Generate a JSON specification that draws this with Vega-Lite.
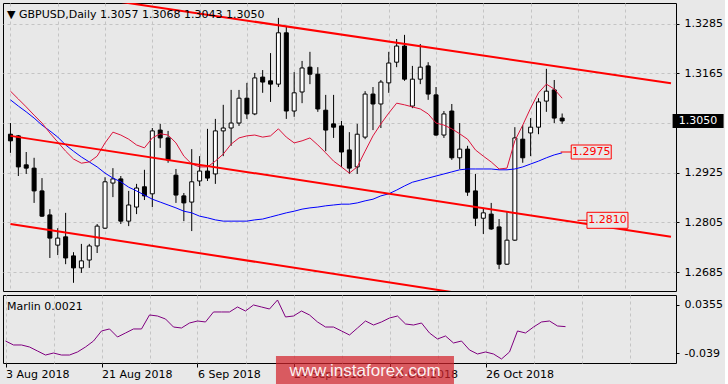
{
  "$schema": "https://vega.github.io/schema/vega-lite/v6.json",
  "background": "#e8e8e8",
  "padding": {"left": 2, "top": 2, "right": 0, "bottom": 0},
  "spacing": 2,
  "config": {
    "font": "DejaVu Sans",
    "view": {"stroke": "#000000", "strokeWidth": 1},
    "axis": {"labelFont": "DejaVu Sans", "labelFontSize": 11, "labelColor": "#000000", "gridColor": "#c4c4c4", "gridDash": [3, 3], "gridWidth": 1, "domain": false, "tickColor": "#000000", "title": null},
    "title": {"font": "DejaVu Sans", "fontSize": 11, "fontWeight": "normal", "color": "#000000", "anchor": "start", "frame": "group"}
  },
  "datasets": {
    "bars": [
      {"d":"2018-08-03","i":0,"o":1.3018,"h":1.3045,"l":1.2973,"c":1.3002,"ma":1.3101,"fma":1.3122,"mar":-0.0201},
      {"d":"2018-08-06","i":1,"o":1.3014,"h":1.3016,"l":1.2917,"c":1.2939,"ma":1.3086,"fma":1.3103,"mar":-0.0262},
      {"d":"2018-08-07","i":2,"o":1.2944,"h":1.2975,"l":1.2922,"c":1.2936,"ma":1.3072,"fma":1.3084,"mar":-0.0262},
      {"d":"2018-08-08","i":3,"o":1.2936,"h":1.2961,"l":1.2852,"c":1.2881,"ma":1.3057,"fma":1.3064,"mar":-0.0293},
      {"d":"2018-08-09","i":4,"o":1.2881,"h":1.2912,"l":1.2818,"c":1.2820,"ma":1.3040,"fma":1.3045,"mar":-0.0355},
      {"d":"2018-08-10","i":5,"o":1.2823,"h":1.2837,"l":1.2719,"c":1.2767,"ma":1.3026,"fma":1.3021,"mar":-0.0417},
      {"d":"2018-08-13","i":6,"o":1.2750,"h":1.2791,"l":1.2726,"c":1.2767,"ma":1.3011,"fma":1.2999,"mar":-0.0386},
      {"d":"2018-08-14","i":7,"o":1.2770,"h":1.2828,"l":1.2704,"c":1.2719,"ma":1.2992,"fma":1.2977,"mar":-0.0417},
      {"d":"2018-08-15","i":8,"o":1.2724,"h":1.2733,"l":1.2659,"c":1.2695,"ma":1.2977,"fma":1.2958,"mar":-0.0417},
      {"d":"2018-08-16","i":9,"o":1.2695,"h":1.2753,"l":1.2683,"c":1.2712,"ma":1.2963,"fma":1.2948,"mar":-0.0370},
      {"d":"2018-08-17","i":10,"o":1.2714,"h":1.2753,"l":1.2695,"c":1.2748,"ma":1.2951,"fma":1.2951,"mar":-0.0293},
      {"d":"2018-08-20","i":11,"o":1.2748,"h":1.2801,"l":1.2731,"c":1.2796,"ma":1.2939,"fma":1.2965,"mar":-0.0201},
      {"d":"2018-08-21","i":12,"o":1.2791,"h":1.2914,"l":1.2789,"c":1.2903,"ma":1.2924,"fma":1.2997,"mar":-0.0046},
      {"d":"2018-08-22","i":13,"o":1.2900,"h":1.2936,"l":1.2866,"c":1.2910,"ma":1.2912,"fma":1.3023,"mar":-0.0015},
      {"d":"2018-08-23","i":14,"o":1.2910,"h":1.2917,"l":1.2801,"c":1.2808,"ma":1.2903,"fma":1.3016,"mar":-0.0139},
      {"d":"2018-08-24","i":15,"o":1.2808,"h":1.2881,"l":1.2796,"c":1.2847,"ma":1.2890,"fma":1.3006,"mar":-0.0077},
      {"d":"2018-08-27","i":16,"o":1.2842,"h":1.2898,"l":1.2825,"c":1.2888,"ma":1.2881,"fma":1.2992,"mar":-0.0015},
      {"d":"2018-08-28","i":17,"o":1.2891,"h":1.2932,"l":1.2859,"c":1.2869,"ma":1.2871,"fma":1.2985,"mar":-0.0015},
      {"d":"2018-08-29","i":18,"o":1.2874,"h":1.3033,"l":1.2842,"c":1.3026,"ma":1.2861,"fma":1.3009,"mar":0.0201},
      {"d":"2018-08-30","i":19,"o":1.3028,"h":1.3043,"l":1.2985,"c":1.3009,"ma":1.2854,"fma":1.3019,"mar":0.0185},
      {"d":"2018-08-31","i":20,"o":1.3009,"h":1.3026,"l":1.2949,"c":1.2956,"ma":1.2847,"fma":1.3016,"mar":0.0139},
      {"d":"2018-09-03","i":21,"o":1.2919,"h":1.2934,"l":1.2852,"c":1.2871,"ma":1.2840,"fma":1.2997,"mar":0.0015},
      {"d":"2018-09-04","i":22,"o":1.2869,"h":1.2876,"l":1.2808,"c":1.2852,"ma":1.2832,"fma":1.2965,"mar":0.0000},
      {"d":"2018-09-05","i":23,"o":1.2854,"h":1.2982,"l":1.2784,"c":1.2903,"ma":1.2828,"fma":1.2946,"mar":0.0077},
      {"d":"2018-09-06","i":24,"o":1.2905,"h":1.2965,"l":1.2893,"c":1.2929,"ma":1.2820,"fma":1.2939,"mar":0.0108},
      {"d":"2018-09-07","i":25,"o":1.2929,"h":1.3031,"l":1.2905,"c":1.2912,"ma":1.2816,"fma":1.2939,"mar":0.0093},
      {"d":"2018-09-10","i":26,"o":1.2922,"h":1.3055,"l":1.2898,"c":1.3026,"ma":1.2811,"fma":1.2953,"mar":0.0247},
      {"d":"2018-09-11","i":27,"o":1.3026,"h":1.3089,"l":1.2965,"c":1.3033,"ma":1.2808,"fma":1.2970,"mar":0.0247},
      {"d":"2018-09-12","i":28,"o":1.3033,"h":1.3125,"l":1.2990,"c":1.3045,"ma":1.2808,"fma":1.2994,"mar":0.0247},
      {"d":"2018-09-13","i":29,"o":1.3045,"h":1.3125,"l":1.3038,"c":1.3105,"ma":1.2808,"fma":1.3009,"mar":0.0324},
      {"d":"2018-09-14","i":30,"o":1.3105,"h":1.3142,"l":1.3055,"c":1.3067,"ma":1.2808,"fma":1.3014,"mar":0.0262},
      {"d":"2018-09-17","i":31,"o":1.3067,"h":1.3166,"l":1.3064,"c":1.3154,"ma":1.2811,"fma":1.3016,"mar":0.0355},
      {"d":"2018-09-18","i":32,"o":1.3156,"h":1.3173,"l":1.3118,"c":1.3144,"ma":1.2813,"fma":1.3011,"mar":0.0324},
      {"d":"2018-09-19","i":33,"o":1.3147,"h":1.3214,"l":1.3096,"c":1.3139,"ma":1.2818,"fma":1.3014,"mar":0.0293},
      {"d":"2018-09-20","i":34,"o":1.3139,"h":1.3299,"l":1.3132,"c":1.3263,"ma":1.2823,"fma":1.3031,"mar":0.0432},
      {"d":"2018-09-21","i":35,"o":1.3263,"h":1.3277,"l":1.3055,"c":1.3074,"ma":1.2828,"fma":1.3011,"mar":0.0170},
      {"d":"2018-09-24","i":36,"o":1.3074,"h":1.3168,"l":1.3060,"c":1.3118,"ma":1.2832,"fma":1.2997,"mar":0.0185},
      {"d":"2018-09-25","i":37,"o":1.3120,"h":1.3195,"l":1.3093,"c":1.3178,"ma":1.2837,"fma":1.3002,"mar":0.0262},
      {"d":"2018-09-26","i":38,"o":1.3180,"h":1.3217,"l":1.3139,"c":1.3163,"ma":1.2840,"fma":1.3009,"mar":0.0201},
      {"d":"2018-09-27","i":39,"o":1.3163,"h":1.3180,"l":1.3072,"c":1.3079,"ma":1.2842,"fma":1.2992,"mar":0.0093},
      {"d":"2018-09-28","i":40,"o":1.3076,"h":1.3113,"l":1.2977,"c":1.3028,"ma":1.2845,"fma":1.2973,"mar":0.0015},
      {"d":"2018-10-01","i":41,"o":1.3043,"h":1.3113,"l":1.3009,"c":1.3035,"ma":1.2847,"fma":1.2953,"mar":0.0015},
      {"d":"2018-10-02","i":42,"o":1.3038,"h":1.3050,"l":1.2939,"c":1.2975,"ma":1.2849,"fma":1.2939,"mar":-0.0046},
      {"d":"2018-10-03","i":43,"o":1.2980,"h":1.3023,"l":1.2922,"c":1.2936,"ma":1.2849,"fma":1.2924,"mar":-0.0108},
      {"d":"2018-10-04","i":44,"o":1.2939,"h":1.3043,"l":1.2922,"c":1.3018,"ma":1.2852,"fma":1.2939,"mar":0.0000},
      {"d":"2018-10-05","i":45,"o":1.3011,"h":1.3122,"l":1.3006,"c":1.3115,"ma":1.2857,"fma":1.2977,"mar":0.0108},
      {"d":"2018-10-08","i":46,"o":1.3115,"h":1.3132,"l":1.3028,"c":1.3091,"ma":1.2861,"fma":1.3014,"mar":0.0046},
      {"d":"2018-10-09","i":47,"o":1.3091,"h":1.3149,"l":1.3033,"c":1.3144,"ma":1.2869,"fma":1.3043,"mar":0.0093},
      {"d":"2018-10-10","i":48,"o":1.3142,"h":1.3217,"l":1.3118,"c":1.3190,"ma":1.2874,"fma":1.3069,"mar":0.0154},
      {"d":"2018-10-11","i":49,"o":1.3192,"h":1.3248,"l":1.3180,"c":1.3231,"ma":1.2883,"fma":1.3093,"mar":0.0185},
      {"d":"2018-10-12","i":50,"o":1.3231,"h":1.3258,"l":1.3147,"c":1.3151,"ma":1.2893,"fma":1.3089,"mar":0.0062},
      {"d":"2018-10-15","i":51,"o":1.3086,"h":1.3183,"l":1.3081,"c":1.3151,"ma":1.2902,"fma":1.3084,"mar":0.0046},
      {"d":"2018-10-16","i":52,"o":1.3151,"h":1.3236,"l":1.3139,"c":1.3180,"ma":1.2907,"fma":1.3079,"mar":0.0077},
      {"d":"2018-10-17","i":53,"o":1.3183,"h":1.3192,"l":1.3101,"c":1.3115,"ma":1.2912,"fma":1.3067,"mar":-0.0077},
      {"d":"2018-10-18","i":54,"o":1.3113,"h":1.3132,"l":1.3014,"c":1.3016,"ma":1.2917,"fma":1.3045,"mar":-0.0170},
      {"d":"2018-10-19","i":55,"o":1.3016,"h":1.3074,"l":1.3009,"c":1.3067,"ma":1.2922,"fma":1.3040,"mar":-0.0123},
      {"d":"2018-10-22","i":56,"o":1.3074,"h":1.3091,"l":1.2956,"c":1.2961,"ma":1.2927,"fma":1.3031,"mar":-0.0231},
      {"d":"2018-10-23","i":57,"o":1.2961,"h":1.3045,"l":1.2934,"c":1.2982,"ma":1.2932,"fma":1.3019,"mar":-0.0201},
      {"d":"2018-10-24","i":58,"o":1.2982,"h":1.2990,"l":1.2869,"c":1.2878,"ma":1.2934,"fma":1.3006,"mar":-0.0339},
      {"d":"2018-10-25","i":59,"o":1.2881,"h":1.2922,"l":1.2796,"c":1.2815,"ma":1.2934,"fma":1.2980,"mar":-0.0401},
      {"d":"2018-10-26","i":60,"o":1.2815,"h":1.2840,"l":1.2777,"c":1.2828,"ma":1.2934,"fma":1.2965,"mar":-0.0370},
      {"d":"2018-10-29","i":61,"o":1.2825,"h":1.2852,"l":1.2787,"c":1.2789,"ma":1.2934,"fma":1.2951,"mar":-0.0401},
      {"d":"2018-10-30","i":62,"o":1.2794,"h":1.2813,"l":1.2692,"c":1.2704,"ma":1.2932,"fma":1.2934,"mar":-0.0478},
      {"d":"2018-10-31","i":63,"o":1.2704,"h":1.2830,"l":1.2702,"c":1.2762,"ma":1.2932,"fma":1.2936,"mar":-0.0370},
      {"d":"2018-11-01","i":64,"o":1.2762,"h":1.3035,"l":1.2760,"c":1.3009,"ma":1.2934,"fma":1.3002,"mar":-0.0046},
      {"d":"2018-11-02","i":65,"o":1.3006,"h":1.3040,"l":1.2949,"c":1.2961,"ma":1.2939,"fma":1.3040,"mar":-0.0077},
      {"d":"2018-11-05","i":66,"o":1.3021,"h":1.3057,"l":1.2965,"c":1.3035,"ma":1.2946,"fma":1.3081,"mar":0.0015},
      {"d":"2018-11-06","i":67,"o":1.3035,"h":1.3105,"l":1.3018,"c":1.3096,"ma":1.2953,"fma":1.3118,"mar":0.0093},
      {"d":"2018-11-07","i":68,"o":1.3098,"h":1.3176,"l":1.3072,"c":1.3122,"ma":1.2961,"fma":1.3139,"mar":0.0108},
      {"d":"2018-11-08","i":69,"o":1.3125,"h":1.3149,"l":1.3045,"c":1.3057,"ma":1.2968,"fma":1.3127,"mar":0.0031},
      {"d":"2018-11-09","i":70,"o":1.3057,"h":1.3068,"l":1.3043,"c":1.3050,"ma":1.2973,"fma":1.3105,"mar":0.0021}
    ],
    "channel": [
      {"line":"A","i":0,"p":1.3377},{"line":"A","i":83.8125,"p":1.3141},
      {"line":"B","i":0,"p":1.3014},{"line":"B","i":83.8125,"p":1.2770},
      {"line":"C","i":0,"p":1.2801},{"line":"C","i":83.8125,"p":1.2555}
    ]
  },
  "vconcat": [
    {
      "width": 673,
      "height": 288,
      "title": {"text": "▼  GBPUSD,Daily  1.3057 1.3068 1.3043 1.3050", "offset": -17, "dx": 4},
      "layer": [
        {
          "data": {"name": "bars"},
          "mark": {"type": "rule", "color": "#000000", "strokeWidth": 1, "clip": true},
          "encoding": {
            "x": {"field": "i", "type": "quantitative", "scale": {"domain": [-0.3125, 83.8125], "nice": false, "zero": false},
                  "axis": {"values": [0,6,12,18,24,30,36,42,48,54,60,66,72,78], "labels": false, "ticks": false, "grid": true}},
            "y": {"field": "l", "type": "quantitative", "scale": {"domain": [1.26392, 1.3335], "nice": false, "zero": false},
                  "axis": {"orient": "right", "values": [1.3285, 1.3165, 1.3045, 1.2925, 1.2805, 1.2685], "labelExpr": "datum.value == 1.3045 ? '' : format(datum.value, '.4f')", "tickSize": 3, "labelPadding": 5, "grid": true}},
            "y2": {"field": "h"}
          }
        },
        {
          "data": {"name": "bars"},
          "mark": {"type": "bar", "width": 4, "stroke": "#000000", "strokeWidth": 1, "clip": true},
          "encoding": {
            "x": {"field": "i", "type": "quantitative"},
            "y": {"field": "o", "type": "quantitative"},
            "y2": {"field": "c"},
            "fill": {"condition": {"test": "datum.c >= datum.o", "value": "#ffffff"}, "value": "#000000"}
          }
        },
        {
          "data": {"name": "bars"},
          "mark": {"type": "line", "color": "#0000ff", "strokeWidth": 1, "clip": true},
          "encoding": {"x": {"field": "i", "type": "quantitative"}, "y": {"field": "ma", "type": "quantitative"}}
        },
        {
          "data": {"name": "bars"},
          "mark": {"type": "line", "color": "#dc143c", "strokeWidth": 1, "clip": true},
          "encoding": {"x": {"field": "i", "type": "quantitative"}, "y": {"field": "fma", "type": "quantitative"}}
        },
        {
          "data": {"name": "channel"},
          "mark": {"type": "line", "color": "#ff0000", "strokeWidth": 2, "clip": true},
          "encoding": {"x": {"field": "i", "type": "quantitative"}, "y": {"field": "p", "type": "quantitative"}, "detail": {"field": "line"}}
        },
        {
          "data": {"values": [{"label": "1.2975", "price": 1.2975}]},
          "mark": {"type": "rule", "color": "#ff0000", "strokeWidth": 1},
          "encoding": {"x": {"datum": 69.81}, "x2": {"datum": 71.19}, "y": {"field": "price", "type": "quantitative"}}
        },
        {
          "data": {"values": [{"label": "1.2975", "price": 1.2975}]},
          "mark": {"type": "point", "shape": "M-1,-0.35L1,-0.35L1,0.35L-1,0.35Z", "size": 1600, "filled": true, "fill": "#e8e8e8", "stroke": "#ff0000", "strokeWidth": 1, "opacity": 1},
          "encoding": {"x": {"datum": 73.69}, "y": {"field": "price", "type": "quantitative"}}
        },
        {
          "data": {"values": [{"label": "1.2975", "price": 1.2975}]},
          "mark": {"type": "text", "color": "#ff0000", "fontSize": 11, "font": "DejaVu Sans", "align": "center", "baseline": "middle"},
          "encoding": {"x": {"datum": 73.69}, "y": {"field": "price", "type": "quantitative"}, "text": {"field": "label"}}
        },
        {
          "data": {"values": [{"label": "1.2810", "price": 1.2810}]},
          "mark": {"type": "rule", "color": "#ff0000", "strokeWidth": 1},
          "encoding": {"x": {"datum": 71.94}, "x2": {"datum": 73.19}, "y": {"field": "price", "type": "quantitative"}}
        },
        {
          "data": {"values": [{"label": "1.2810", "price": 1.2810}]},
          "mark": {"type": "point", "shape": "M-1,-0.39L1,-0.39L1,0.39L-1,0.39Z", "size": 1681, "filled": true, "fill": "#e8e8e8", "stroke": "#ff0000", "strokeWidth": 1, "opacity": 1},
          "encoding": {"x": {"datum": 75.75}, "y": {"field": "price", "type": "quantitative"}}
        },
        {
          "data": {"values": [{"label": "1.2810", "price": 1.2810}]},
          "mark": {"type": "text", "color": "#ff0000", "fontSize": 11, "font": "DejaVu Sans", "align": "center", "baseline": "middle"},
          "encoding": {"x": {"datum": 75.75}, "y": {"field": "price", "type": "quantitative"}, "text": {"field": "label"}}
        },
        {
          "data": {"values": [{"label": "1.3050", "price": 1.3050}]},
          "mark": {"type": "point", "shape": "M-1,-0.275L1,-0.275L1,0.275L-1,0.275Z", "size": 2601, "filled": true, "fill": "#000000", "strokeWidth": 0, "opacity": 1},
          "encoding": {"x": {"datum": 87.25}, "y": {"field": "price", "type": "quantitative"}}
        },
        {
          "data": {"values": [{"label": "1.3050", "price": 1.3050}]},
          "mark": {"type": "text", "color": "#ffffff", "fontSize": 11, "font": "DejaVu Sans", "align": "center", "baseline": "middle"},
          "encoding": {"x": {"datum": 87.25}, "y": {"field": "price", "type": "quantitative"}, "text": {"field": "label"}}
        }
      ]
    },
    {
      "width": 673,
      "height": 68,
      "title": {"text": "Marlin 0.0021", "offset": -17, "dx": 4},
      "layer": [
        {
          "data": {"name": "bars"},
          "mark": {"type": "line", "color": "#800080", "strokeWidth": 1},
          "encoding": {
            "x": {"field": "i", "type": "quantitative", "scale": {"domain": [-0.3125, 83.8125], "nice": false, "zero": false},
                  "axis": {"values": [0,6,12,18,24,30,36,42,48,54,60,66,72,78], "grid": true, "labelAlign": "left", "labelOverlap": false, "labelFlush": false, "tickSize": 4, "labelPadding": 1,
                           "tickOpacity": {"condition": {"test": "datum.value % 12 == 0 && datum.value <= 60", "value": 1}, "value": 0},
                           "labelExpr": "datum.value == 0 ? '3 Aug 2018' : datum.value == 12 ? '21 Aug 2018' : datum.value == 24 ? '6 Sep 2018' : datum.value == 36 ? '24 Sep 2018' : datum.value == 48 ? '10 Oct 2018' : datum.value == 60 ? '26 Oct 2018' : ''"}},
            "y": {"field": "mar", "type": "quantitative", "scale": {"domain": [-0.054, 0.0509], "nice": false, "zero": false},
                  "axis": {"orient": "right", "values": [0.0355, 0, -0.039], "tickSize": 3, "labelPadding": 5, "grid": true,
                           "gridOpacity": {"condition": {"test": "datum.value == 0", "value": 1}, "value": 0},
                           "labelExpr": "datum.value == 0 ? '0.00' : datum.value > 0 ? '0.0355' : '-0.039'"}}
          }
        },
        {
          "data": {"values": [{}]},
          "mark": {"type": "rect", "fill": "#d2232b", "opacity": 0.72},
          "encoding": {"x": {"datum": 33.81}, "x2": {"datum": 56.06}, "y": {"datum": -0.0432}, "y2": {"datum": -0.0879}}
        },
        {
          "data": {"values": [{"site": "www.instaforex.com"}]},
          "mark": {"type": "text", "color": "#ffffff", "opacity": 0.92, "font": "Liberation Sans", "fontSize": 17, "align": "center", "baseline": "middle"},
          "encoding": {"x": {"datum": 44.94}, "y": {"datum": -0.0663}, "text": {"field": "site"}}
        }
      ]
    }
  ]
}
